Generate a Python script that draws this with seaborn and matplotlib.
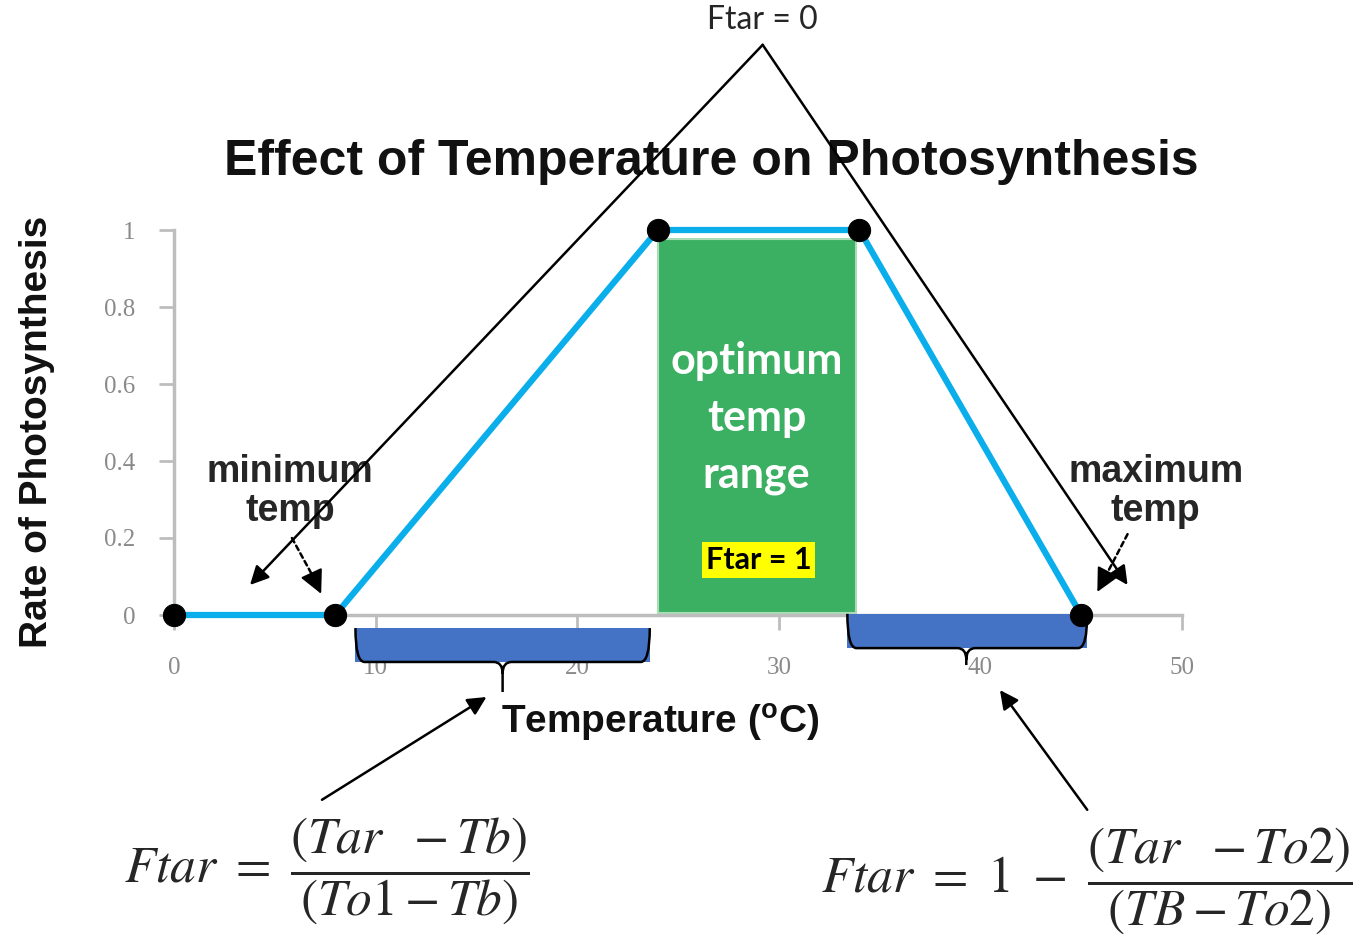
import matplotlib
matplotlib.use("Agg")
import matplotlib.pyplot as plt
from matplotlib.patches import Rectangle, PathPatch
from matplotlib.path import Path
import seaborn as sns
import pandas as pd

# curve of photosynthesis rate against temperature
temperature = [0, 8, 24, 34, 45]
rate = [0, 0, 1, 1, 0]

# optimum block and the two braces under the axis (data units)
optimum_x = [24, 33.85]
optimum_y = [0.005, 0.977]
left_brace = [9.0, 23.6, 16.3]     # start, end, tip
right_brace = [33.4, 45.3, 39.3]

x_ticks = [0, 10, 20, 30, 40, 50]
y_ticks = [0, 0.2, 0.4, 0.6, 0.8, 1]
y_tick_labels = ["0", "0.2", "0.4", "0.6", "0.8", "1"]

df = pd.DataFrame({"Temperature": temperature, "Rate": rate})

sns.set_style("white")
plt.rcParams["font.family"] = ["Liberation Sans", "DejaVu Sans"]
plt.rcParams["mathtext.fontset"] = "stix"

fig = plt.figure(figsize=(13.6, 9.41), dpi=100)
W, H = 1360, 941
ax = fig.add_axes([174 / W, 1 - 615 / H, 1008 / W, 385 / H])

blue = "#0AAEEB"
green = "#3CB062"
brace_blue = "#4472C4"
grey = "#BDBDBD"

ax.add_patch(Rectangle((optimum_x[0], optimum_y[0]), optimum_x[1] - optimum_x[0],
                       optimum_y[1] - optimum_y[0], facecolor=green,
                       edgecolor="#A9DDB8", linewidth=1.5, zorder=2))

sns.lineplot(data=df, x="Temperature", y="Rate", ax=ax, color=blue, linewidth=4.5,
             marker="o", markersize=16, markerfacecolor="black",
             markeredgecolor="black", clip_on=False, zorder=5)

ax.set_xlim(0, 50)
ax.set_ylim(0, 1)
ax.set_xticks(x_ticks)
ax.set_yticks(y_ticks)
ax.set_yticklabels(y_tick_labels)
for lab in ax.get_xticklabels() + ax.get_yticklabels():
    lab.set_family("Liberation Serif")
    lab.set_color("#8A8A8A")
    lab.set_fontsize(18)
ax.tick_params(axis="y", length=11, width=2, color=grey, pad=17, left=True)
ax.tick_params(axis="x", length=11, width=2, color=grey, pad=19, bottom=True)
for s in ["top", "right"]:
    ax.spines[s].set_visible(False)
for s in ["left", "bottom"]:
    ax.spines[s].set_color(grey)
    ax.spines[s].set_linewidth(2.5)

ax.set_title("Effect of Temperature on Photosynthesis", fontsize=36, fontweight="bold",
             x=0.533, y=1.143, pad=0, color="#111111")
ax.set_xlabel(r"Temperature ($\mathregular{^{o}}$C)", fontsize=28, fontweight="bold",
              color="#111111")
ax.xaxis.set_label_coords(0.482, -0.225)
ax.set_ylabel("Rate of Photosynthesis", fontsize=28, fontweight="bold", color="#111111")
ax.yaxis.set_label_coords(-0.118, 0.475)

# text inside the optimum block
ax.text(28.9, 0.512, "optimum\ntemp\nrange", ha="center", va="center", color="white",
        fontsize=31, fontweight="bold", family="Lato", linespacing=1.5, zorder=6)
ax.text(29.0, 0.143, "Ftar = 1", ha="center", va="center", color="black", fontsize=22,
        fontweight="bold", family="Lato", zorder=6,
        bbox=dict(boxstyle="square,pad=0.12", facecolor="#FFFF00", edgecolor="none"))

ax.text(5.75, 0.32, "minimum\ntemp", ha="center", va="center", fontsize=27,
        fontweight="bold", linespacing=1.1, zorder=6)
ax.text(48.7, 0.32, "maximum\ntemp", ha="center", va="center", fontsize=27,
        fontweight="bold", linespacing=1.1, zorder=6)

# Ftar = 0 with its two long arrows
ax.text(29.2, 1.545, "Ftar = 0", ha="center", va="center", fontsize=23, family="Lato",
        clip_on=False)
solid = dict(arrowstyle="-|>", color="black", lw=1.8, mutation_scale=28, shrinkA=0, shrinkB=0)
ax.annotate("", xy=(3.77, 0.078), xytext=(29.2, 1.481), arrowprops=solid,
            annotation_clip=False, zorder=7)
ax.annotate("", xy=(47.3, 0.078), xytext=(29.2, 1.481), arrowprops=solid,
            annotation_clip=False, zorder=7)

# dotted leader lines from the min / max labels, with a solid head
dashed = dict(arrowstyle="-", color="black", lw=1.8, linestyle=(0, (2, 1.5)),
              shrinkA=0, shrinkB=0)
head = dict(arrowstyle="-|>", color="black", lw=1.5, mutation_scale=36, shrinkA=0, shrinkB=0)
ax.annotate("", xy=(7.0, 0.09), xytext=(5.85, 0.2), arrowprops=dashed,
            annotation_clip=False, zorder=7)
ax.annotate("", xy=(7.3, 0.055), xytext=(6.9, 0.1), arrowprops=head,
            annotation_clip=False, zorder=7)
ax.annotate("", xy=(46.2, 0.1), xytext=(47.3, 0.21), arrowprops=dashed,
            annotation_clip=False, zorder=7)
ax.annotate("", xy=(45.8, 0.06), xytext=(46.3, 0.11), arrowprops=head,
            annotation_clip=False, zorder=7)


def brace(x0, x1, xt, top, bot, tip):
    ax.add_patch(Rectangle((x0, bot), x1 - x0, top - bot, facecolor=brace_blue,
                           edgecolor="none", clip_on=False, zorder=4))
    r, d = 0.45, 0.03
    verts = [(x0, top), (x0, bot), (x0 + r, bot), (xt - r, bot), (xt, bot), (xt, bot - d),
             (xt, tip),
             (xt, bot - d), (xt, bot), (xt + r, bot), (x1 - r, bot), (x1, bot), (x1, top)]
    codes = [Path.MOVETO, Path.CURVE3, Path.CURVE3, Path.LINETO, Path.CURVE3, Path.CURVE3,
             Path.LINETO,
             Path.MOVETO, Path.CURVE3, Path.CURVE3, Path.LINETO, Path.CURVE3, Path.CURVE3]
    ax.add_patch(PathPatch(Path(verts, codes), facecolor="none", edgecolor="black",
                           lw=1.8, clip_on=False, zorder=4))


brace(left_brace[0], left_brace[1], left_brace[2], -0.034, -0.122, -0.2)
brace(right_brace[0], right_brace[1], right_brace[2], 0.003, -0.086, -0.13)

# formulas and their arrows
ax.annotate("", xy=(15.5, -0.213), xytext=(7.34, -0.48), arrowprops=solid,
            annotation_clip=False)
ax.annotate("", xy=(40.97, -0.195), xytext=(45.3, -0.506), arrowprops=solid,
            annotation_clip=False)
ax.text(7.6, -0.665, r"$Ftar\ =\ \dfrac{(Tar\ \ -Tb)}{(To1-Tb)}$", ha="center",
        va="center", fontsize=37, clip_on=False)
ax.text(45.3, -0.69, r"$Ftar\ =\ 1\ -\ \dfrac{(Tar\ \ -To2)}{(TB-To2)}$", ha="center",
        va="center", fontsize=37, clip_on=False)

fig.savefig("out.png", dpi=100)
